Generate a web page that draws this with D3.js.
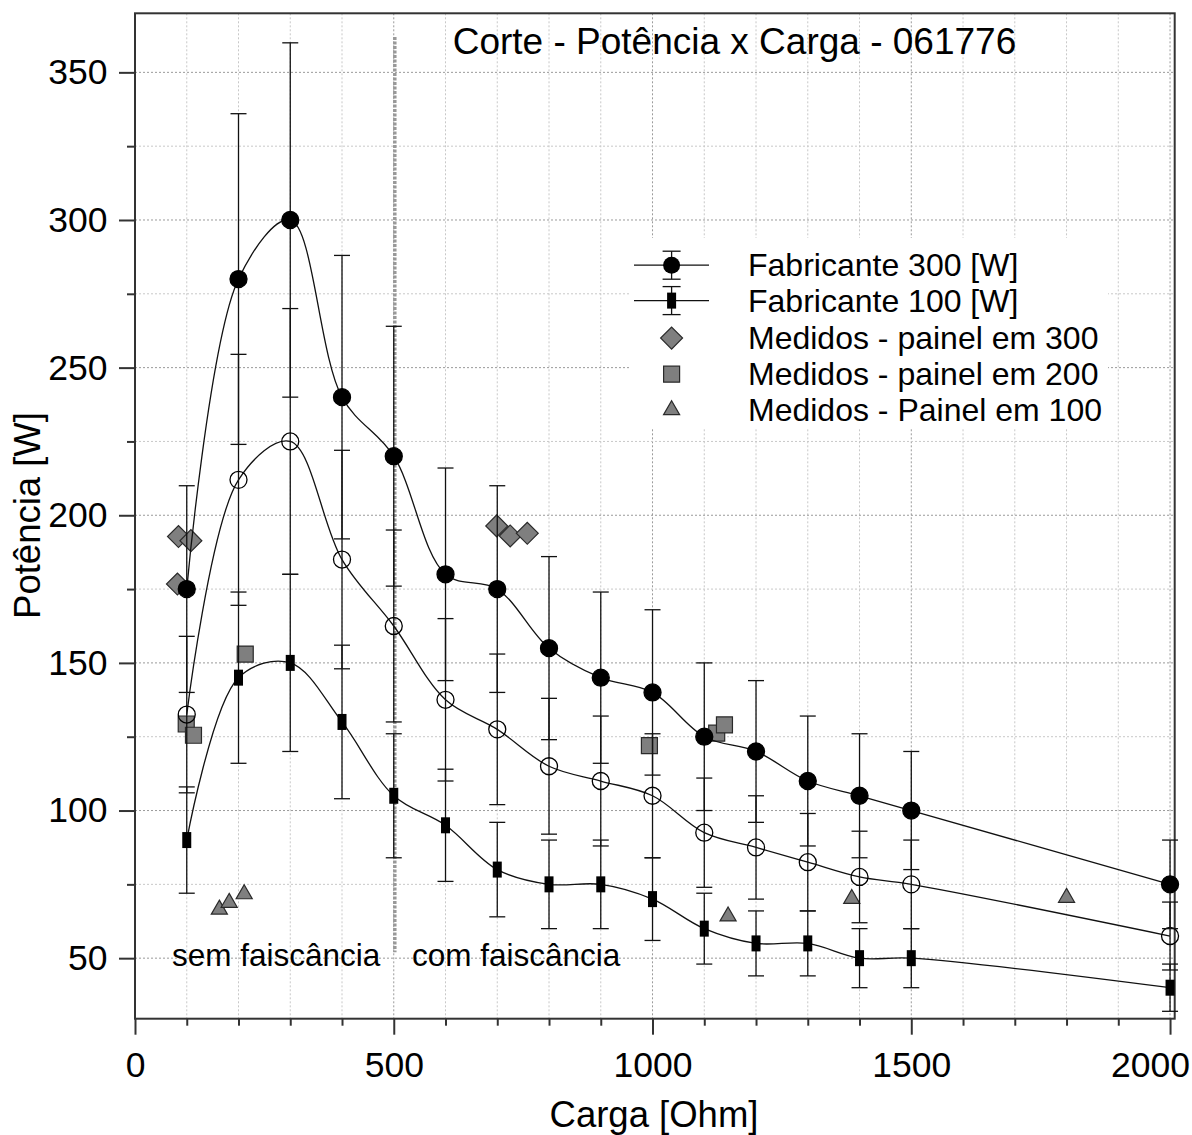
<html>
<head>
  <meta charset="utf-8">
  <script src="https://d3js.org/d3.v7.min.js"></script>
  <style>
    body { margin: 0; background: #fff; }
    text { font-family: "Liberation Sans", Arial, sans-serif; fill: #000; }
    .grid-minor { stroke: #c8c8c8; stroke-width: 1; stroke-dasharray: 2,2; }
    .grid-major { stroke: #9a9a9a; stroke-width: 1; stroke-dasharray: 2,2; }
    .axis path.domain { display: none; }
    .axis line { stroke: #333; stroke-width: 2; }
    .axis text { font-size: 35.5px; }
    .curve { fill: none; stroke: #111; stroke-width: 1.3; }
    .err { stroke: #111; stroke-width: 1.3; }
    .measured { fill: #7f7f7f; stroke: #2a2a2a; stroke-width: 1.2; }
  </style>
</head>
<body>
  <svg id="chart" width="1192" height="1135"></svg>

  <script>
    // ---- data ----
    const loads = [100, 200, 300, 400, 500, 600, 700, 800, 900, 1000, 1100, 1200, 1300, 1400, 1500, 2000];

    const fab300 = [175, 280, 300, 240, 220, 180, 175, 155, 145, 140, 125, 120, 110, 105, 100, 75];
    const fab300Err = [35, 56, 60, 48, 44, 36, 35, 31, 29, 28, 25, 24, 22, 21, 20, 15];

    const fab200 = [132.5, 212, 225, 185, 162.5, 137.5, 127.5, 115, 110, 105, 92.5, 87.5, 82.5, 77.5, 75, 57.5];
    const fab200Err = [26.5, 42.5, 45, 37, 32.5, 27.5, 25.5, 23, 22, 21, 18.5, 17.5, 16.5, 15.5, 15, 11.5];

    const fab100 = [90, 145, 150, 130, 105, 95, 80, 75, 75, 70, 60, 55, 55, 50, 50, 40];
    const fab100Err = [18, 29, 30, 26, 21, 19, 16, 15, 15, 14, 12, 11, 11, 10, 10, 8];

    const med300X = [84, 108, 82, 699, 725, 758];
    const med300Y = [192.8, 191.4, 176.7, 196.4, 193, 193.9];

    const med200X = [99, 113, 213, 994, 1124, 1139];
    const med200Y = [129.3, 125.5, 153, 122, 126.2, 129];

    const med100X = [163, 182, 211, 1146, 1385, 1800];
    const med100Y = [66.5, 68.8, 71.7, 64.2, 70.1, 70.5];

    const xMajor = [0, 500, 1000, 1500, 2000];
    const xMinor = [100, 200, 300, 400, 600, 700, 800, 900, 1100, 1200, 1300, 1400, 1600, 1700, 1800, 1900];
    const yMajor = [50, 100, 150, 200, 250, 300, 350];
    const yMinor = [75, 125, 175, 225, 275, 325];

    const legendLabels = ["Fabricante 300 [W]", "Fabricante 100 [W]", "Medidos - painel em 300",
      "Medidos - painel em 200", "Medidos - Painel em 100"];

    // ---- layout ----
    const svg = d3.select("#chart");
    const x = d3.scaleLinear().domain([0, 2009]).range([135, 1174.7]);
    const y = d3.scaleLinear().domain([29.5, 370]).range([1018.7, 13.3]);
    const [x0, x1] = x.range();
    const [y0, y1] = y.range();

    // gridlines
    const grid = svg.append("g");
    grid.selectAll("line.vx").data(xMinor.concat(xMajor.slice(1)))
      .join("line")
      .attr("class", d => xMajor.includes(d) ? "grid-major" : "grid-minor")
      .attr("x1", d => x(d)).attr("x2", d => x(d))
      .attr("y1", y1).attr("y2", y0);
    grid.selectAll("line.hy").data(yMinor.concat(yMajor))
      .join("line")
      .attr("class", d => yMajor.includes(d) ? "grid-major" : "grid-minor")
      .attr("x1", x0).attr("x2", x1)
      .attr("y1", d => y(d)).attr("y2", d => y(d));

    // separator between "sem" and "com" faiscância
    svg.append("line")
      .attr("x1", x(502)).attr("x2", x(502))
      .attr("y1", y(362)).attr("y2", y(52))
      .attr("stroke", "#999").attr("stroke-width", 3.5)
      .attr("stroke-dasharray", "3,1.5");

    // legend background (hides gridlines)
    svg.append("rect")
      .attr("x", 630).attr("y", 238).attr("width", 478).attr("height", 190)
      .attr("fill", "#fff");

    // axes
    const fmt = d3.format("d");
    svg.append("g").attr("class", "axis")
      .attr("transform", `translate(${x0},0)`)
      .call(d3.axisLeft(y).tickValues(yMajor).tickSize(16).tickPadding(11.5).tickFormat(fmt));
    svg.append("g").attr("class", "axis")
      .attr("transform", `translate(${x0},0)`)
      .call(d3.axisLeft(y).tickValues(yMinor).tickSize(8).tickFormat(""));
    const xAxisG = svg.append("g").attr("class", "axis")
      .attr("transform", `translate(0,${y0})`)
      .call(d3.axisBottom(x).tickValues(xMajor).tickSize(16).tickPadding(17).tickFormat(fmt));
    // last label pulled inside the picture, as in the original
    xAxisG.selectAll(".tick text").filter(d => d === 2000)
      .attr("text-anchor", "end").attr("x", 19.5);
    svg.append("g").attr("class", "axis")
      .attr("transform", `translate(0,${y0})`)
      .call(d3.axisBottom(x).tickValues(xMinor).tickSize(7).tickFormat(""));

    // frame
    svg.append("rect")
      .attr("x", x0).attr("y", y1).attr("width", x1 - x0).attr("height", y0 - y1)
      .attr("fill", "none").attr("stroke", "#333").attr("stroke-width", 2);

    // measured points (drawn below the manufacturer curves)
    const diamond = d3.symbol().type(d3.symbolSquare).size(240);
    const square = d3.symbol().type(d3.symbolSquare).size(256);
    const triangle = d3.symbol().type(d3.symbolTriangle).size(112);

    svg.append("g").selectAll("path").data(d3.zip(med300X, med300Y))
      .join("path").attr("class", "measured").attr("d", diamond)
      .attr("transform", d => `translate(${x(d[0])},${y(d[1])}) rotate(45)`);
    svg.append("g").selectAll("path").data(d3.zip(med200X, med200Y))
      .join("path").attr("class", "measured").attr("d", square)
      .attr("transform", d => `translate(${x(d[0])},${y(d[1])})`);
    svg.append("g").selectAll("path").data(d3.zip(med100X, med100Y))
      .join("path").attr("class", "measured").attr("d", triangle)
      .attr("transform", d => `translate(${x(d[0])},${y(d[1])})`);

    // manufacturer series
    const line = d3.line().x(d => x(d[0])).y(d => y(d[1])).curve(d3.curveCatmullRom.alpha(0.5));
    const capW = 8;

    function drawSeries(vals, errs, marker) {
      const pts = d3.zip(loads, vals, errs);
      const g = svg.append("g");
      g.append("path").attr("class", "curve").attr("d", line(pts));

      const eb = g.selectAll("g.eb").data(pts).join("g").attr("class", "eb");
      eb.append("line").attr("class", "err")
        .attr("x1", d => x(d[0])).attr("x2", d => x(d[0]))
        .attr("y1", d => y(d[1] + d[2])).attr("y2", d => y(d[1] - d[2]));
      eb.append("line").attr("class", "err")
        .attr("x1", d => x(d[0]) - capW).attr("x2", d => x(d[0]) + capW)
        .attr("y1", d => y(d[1] + d[2])).attr("y2", d => y(d[1] + d[2]));
      eb.append("line").attr("class", "err")
        .attr("x1", d => x(d[0]) - capW).attr("x2", d => x(d[0]) + capW)
        .attr("y1", d => y(d[1] - d[2])).attr("y2", d => y(d[1] - d[2]));

      if (marker === "circle" || marker === "open") {
        g.selectAll("circle").data(pts).join("circle")
          .attr("cx", d => x(d[0])).attr("cy", d => y(d[1])).attr("r", 8.5)
          .attr("fill", marker === "circle" ? "#000" : "none")
          .attr("stroke", "#000").attr("stroke-width", 1.3);
      } else {
        g.selectAll("rect").data(pts).join("rect")
          .attr("x", d => x(d[0]) - 4.5).attr("y", d => y(d[1]) - 8)
          .attr("width", 9).attr("height", 16).attr("fill", "#000");
      }
    }

    drawSeries(fab200, fab200Err, "open");
    drawSeries(fab100, fab100Err, "rect");
    drawSeries(fab300, fab300Err, "circle");

    // title and annotations
    svg.append("text").attr("x", 452.7).attr("y", 54)
      .style("font-size", "37px").text("Corte - Potência x Carga - 061776");
    svg.append("text").attr("x", 172).attr("y", 966)
      .style("font-size", "31.5px").text("sem faiscância");
    svg.append("text").attr("x", 412).attr("y", 966)
      .style("font-size", "31.5px").text("com faiscância");

    // axis titles
    svg.append("text").attr("x", 654).attr("y", 1127)
      .attr("text-anchor", "middle").style("font-size", "36.5px").text("Carga [Ohm]");
    svg.append("text").attr("transform", "translate(40,515.5) rotate(-90)")
      .attr("text-anchor", "middle").style("font-size", "36.5px").text("Potência [W]");

    // legend
    const legX = 671.6;
    const legRows = [265.2, 300.6, 338.1, 374.2, 410];
    const leg = svg.append("g");
    [0, 1].forEach(i => {
      const ry = legRows[i];
      leg.append("line").attr("class", "err").attr("x1", 634).attr("x2", 709).attr("y1", ry).attr("y2", ry);
      leg.append("line").attr("class", "err").attr("x1", legX).attr("x2", legX).attr("y1", ry - 14).attr("y2", ry + 14);
      [-14, 14].forEach(o => leg.append("line").attr("class", "err")
        .attr("x1", legX - 9).attr("x2", legX + 9).attr("y1", ry + o).attr("y2", ry + o));
    });
    leg.append("circle").attr("cx", legX).attr("cy", legRows[0]).attr("r", 8.5).attr("fill", "#000");
    leg.append("rect").attr("x", legX - 4.5).attr("y", legRows[1] - 8).attr("width", 9).attr("height", 16).attr("fill", "#000");
    leg.append("path").attr("class", "measured").attr("d", diamond)
      .attr("transform", `translate(${legX},${legRows[2]}) rotate(45)`);
    leg.append("path").attr("class", "measured").attr("d", square)
      .attr("transform", `translate(${legX},${legRows[3]})`);
    leg.append("path").attr("class", "measured").attr("d", triangle)
      .attr("transform", `translate(${legX},${legRows[4]})`);
    leg.selectAll("text.lab").data(legendLabels).join("text")
      .attr("x", 748).attr("y", (d, i) => legRows[i] + 11)
      .style("font-size", "32px").text(d => d);
  </script>
</body>
</html>
